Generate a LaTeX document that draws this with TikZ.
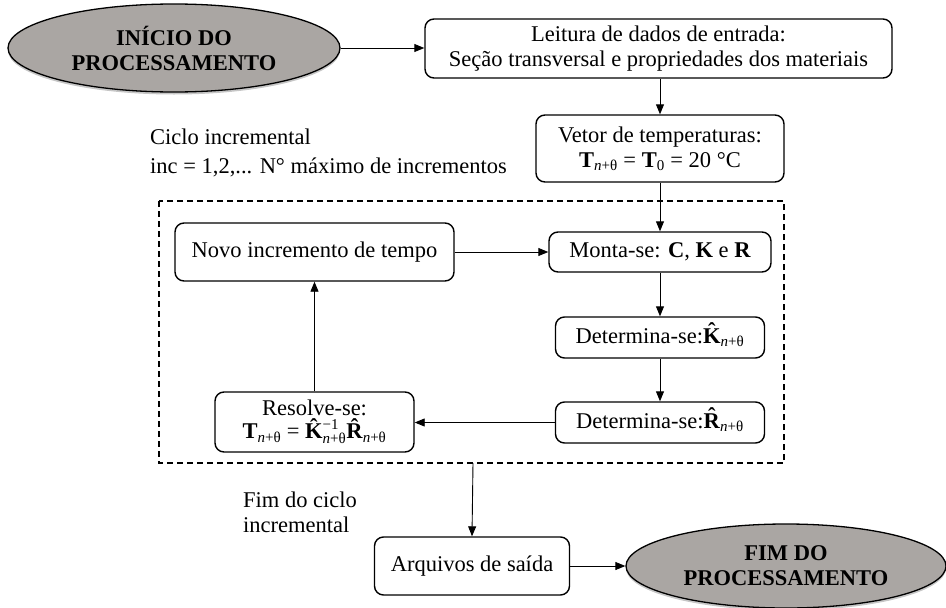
\documentclass[tikz,border=0pt]{standalone}
\usepackage{fontspec}
\setmainfont{Liberation Serif}
\usetikzlibrary{shapes.geometric,arrows.meta,shadows}

\definecolor{termfill}{RGB}{170,166,163}

% small text used for indices and exponents
\newcommand{\ssz}[1]{\mbox{\fontsize{15}{15}\selectfont #1}}
\newcommand{\idx}{\ssz{\textit{n}+θ}}
% bold capital with a circumflex set above it, without changing the line height
\newcommand{\hb}[1]{{\setbox0\hbox{\textbf{#1}}%
  \rlap{\hbox to\wd0{\hss\smash{\raisebox{0.2em}{\textbf{ˆ}}}\hss}}\box0}}

\begin{document}
\begin{tikzpicture}[x=1pt,y=-1pt,
  font=\fontsize{22.5}{25}\selectfont,
  box/.style={draw, line width=1.4pt, rounded corners=9pt, fill=white,
    align=center, inner sep=0pt},
  term/.style={ellipse, draw, line width=1.3pt, fill=termfill, align=center,
    inner sep=0pt, font=\fontsize{22.5}{25}\selectfont\bfseries,
    drop shadow={shadow xshift=0pt, shadow yshift=-2.5pt, opacity=0.45}},
  link/.style={line width=0.9pt, -{Triangle[length=10pt,width=8pt]}},
  frame/.style={draw, line width=1.3pt, dash pattern=on 6pt off 4pt}
]
\useasboundingbox (0,0) rectangle (946,608);

% terminals and process boxes
\node[term, minimum width=332pt, minimum height=88pt] (start) at (174,48)
  {INÍCIO DO\\PROCESSAMENTO};
\node[box, minimum width=467pt, minimum height=59pt] (read) at (658.5,48.5)
  {Leitura de dados de entrada:\\Seção transversal e propriedades dos materiais};
\node[box, minimum width=248pt, minimum height=67pt] (vet) at (660,148.5)
  {Vetor de temperaturas:\\$\mbox{\textbf{T}}_{\idx}$ = $\mbox{\textbf{T}}_{\ssz{0}}$ = 20 °C};

% incremental loop
\draw[frame] (159,201) rectangle (784,463);
\coordinate (loopout) at (473,463);

\node[box, minimum width=279pt, minimum height=58pt] (novo) at (314.5,252)
  {Novo incremento de tempo};
\node[box, minimum width=222pt, minimum height=40pt] (monta) at (660,252)
  {Monta-se: \textbf{C}, \textbf{K} e \textbf{R}};
\node[box, minimum width=209pt, minimum height=41pt] (detk) at (660,337.5)
  {Determina-se:$\mbox{\hb{K}}_{\idx}$};
\node[box, minimum width=209pt, minimum height=41pt] (detr) at (660,422.5)
  {Determina-se:$\mbox{\hb{R}}_{\idx}$};
\node[box, minimum width=199pt, minimum height=60pt] (resolve) at (314.5,422)
  {Resolve-se:\\[-2pt]$\mbox{\textbf{T}}_{\idx}$ = $\mbox{\hb{K}}^{\ssz{−1}}_{\idx}\mbox{\hb{R}}_{\idx}$};

\node[box, minimum width=195pt, minimum height=58pt] (arq) at (472,566)
  {Arquivos de saída};
\node[term, minimum width=320pt, minimum height=84pt] (fim) at (786,566)
  {FIM DO\\PROCESSAMENTO};

% free labels
\node[anchor=west, align=left, inner sep=0pt] (ciclo) at (150,153)
  {Ciclo incremental\\[4pt]inc = 1,2,... N° máximo de incrementos};
\node[anchor=west, align=left, inner sep=0pt] (fimciclo) at (243,512)
  {Fim do ciclo\\incremental};

% connectors
\draw[link] (start.east) -- (start.east -| read.west);
\draw[link] (vet.north |- read.south) -- (vet.north);
\draw[link] (vet.south) -- (monta.north);
\draw[link] (novo.east) -- (monta.west);
\draw[link] (monta.south) -- (detk.north);
\draw[link] (detk.south) -- (detr.north);
\draw[link] (detr.west) -- (detr.west -| resolve.east);
\draw[link] (resolve.north) -- (novo.south);
\draw[link] (loopout) -- (arq.north);
\draw[link] (arq.east) -- (fim.west);
\end{tikzpicture}
\end{document}
